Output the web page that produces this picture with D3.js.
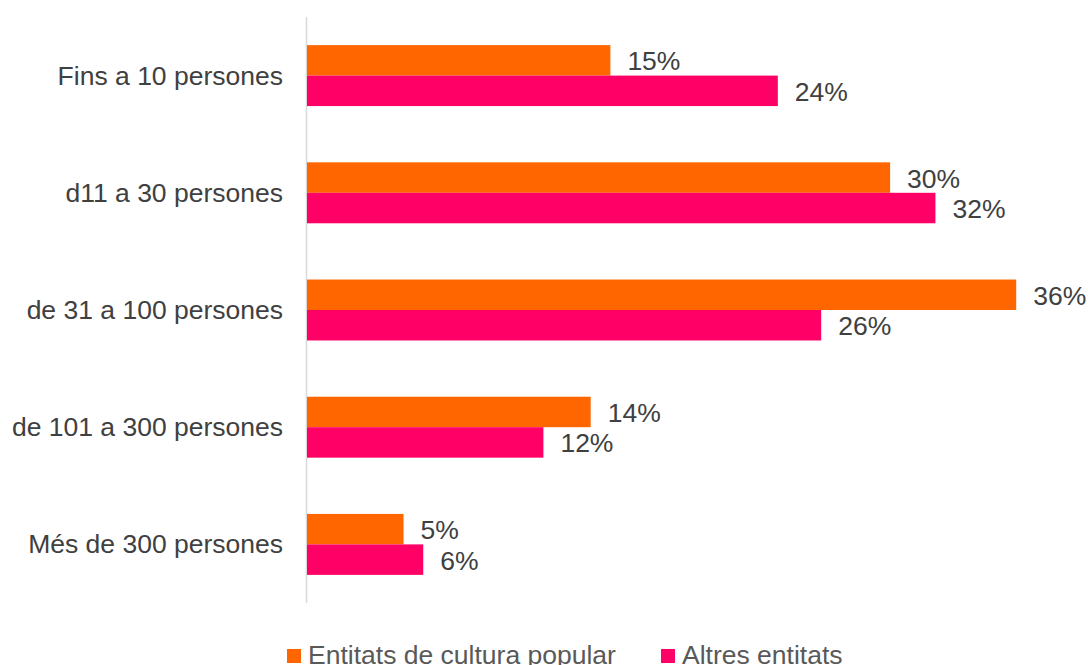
<!DOCTYPE html>
<html>
<head>
<meta charset="utf-8">
<script src="https://cdn.jsdelivr.net/npm/d3@7"></script>
<style>
  html, body { margin: 0; padding: 0; background: #fff; }
  svg { display: block; font-family: "Liberation Sans", Arial, sans-serif; }
</style>
</head>
<body>
<svg id="chart" width="1088" height="665"></svg>
<script>
const categories = ["Fins a 10 persones", "d11 a 30 persones", "de 31 a 100 persones", "de 101 a 300 persones", "Més de 300 persones"];
const seriesNames = ["Entitats de cultura popular", "Altres entitats"];
const culturaPopular = [15.4, 29.6, 36.0, 14.4, 4.9];
const altresEntitats = [23.9, 31.9, 26.1, 12.0, 5.9];
const colors = ["#FF6600", "#FF0066"];

const series = [culturaPopular, altresEntitats];
const svg = d3.select("#chart");
const FS = 26.5;

const x = d3.scaleLinear().domain([0, 40]).range([307, 307 + 788]);
const y = d3.scaleBand().domain(categories).range([17, 603]).paddingInner(0.48).paddingOuter(0.24);
const ySub = d3.scaleBand().domain(d3.range(series.length)).range([0, y.bandwidth()]);

// axis line
svg.append("line")
  .attr("x1", 306.5).attr("x2", 306.5)
  .attr("y1", 17).attr("y2", 603)
  .attr("stroke", "#d9d9d9").attr("stroke-width", 1.5);

// category labels
svg.append("g").selectAll("text").data(categories).join("text")
  .attr("x", 283)
  .attr("y", d => y(d) + y.bandwidth() / 2 + 9)
  .attr("text-anchor", "end")
  .attr("font-size", FS)
  .attr("fill", "#404040")
  .text(d => d);

series.forEach((vals, si) => {
  const g = svg.append("g");
  g.selectAll("rect").data(vals).join("rect")
    .attr("x", x(0))
    .attr("y", (d, i) => y(categories[i]) + ySub(si))
    .attr("width", d => x(d) - x(0))
    .attr("height", ySub.bandwidth())
    .attr("fill", colors[si]);
  g.selectAll("text").data(vals).join("text")
    .attr("x", d => x(d) + 17)
    .attr("y", (d, i) => y(categories[i]) + ySub(si) + ySub.bandwidth() / 2 + 10)
    .attr("font-size", FS)
    .attr("fill", "#404040")
    .text(d => Math.round(d) + "%");
});

// legend
const legendX = [287, 661];
const lg = svg.append("g");
seriesNames.forEach((name, i) => {
  lg.append("rect")
    .attr("x", legendX[i]).attr("y", 649)
    .attr("width", 14).attr("height", 14)
    .attr("fill", colors[i]);
  lg.append("text")
    .attr("x", legendX[i] + 21).attr("y", 664)
    .attr("font-size", FS)
    .attr("fill", "#595959")
    .text(name);
});
</script>
</body>
</html>
